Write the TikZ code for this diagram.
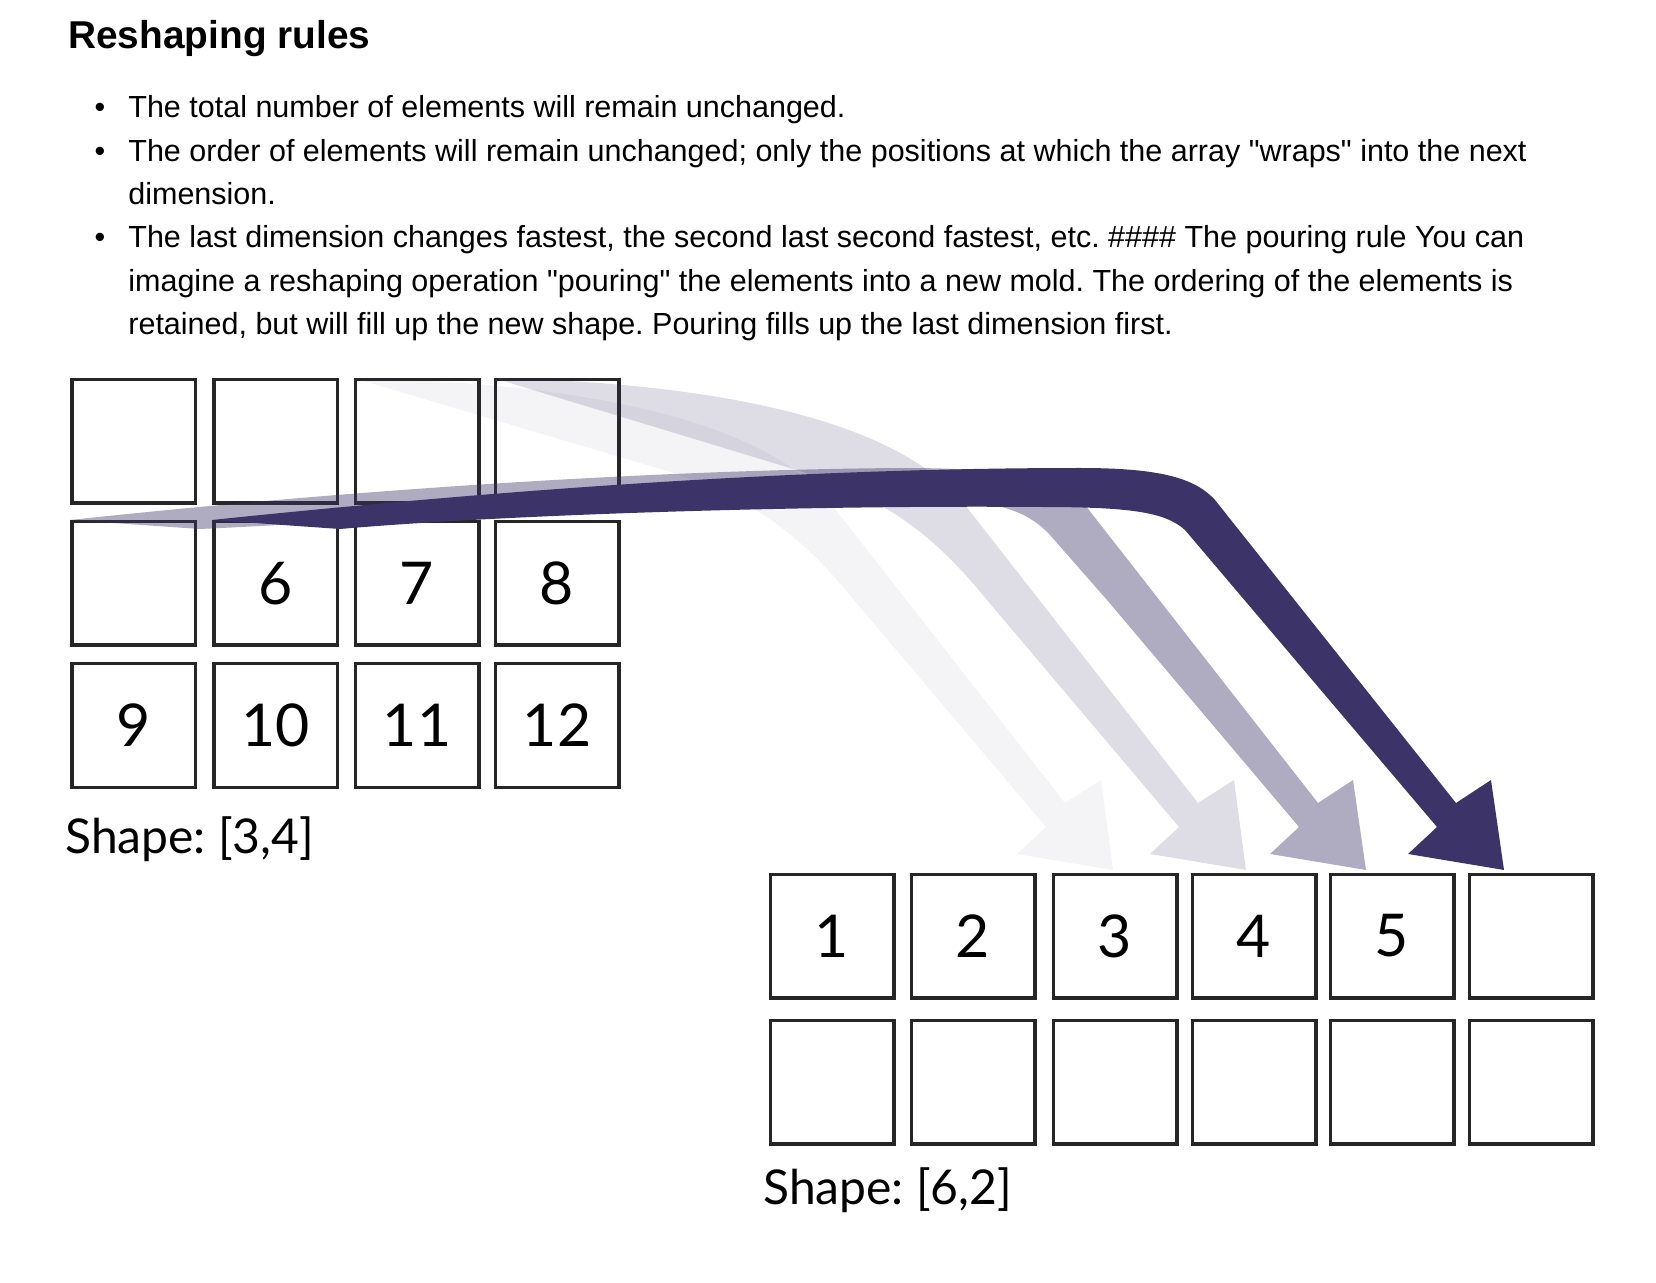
\documentclass[tikz,border=0pt]{standalone}
\usepackage{fontspec}
\setmainfont{Liberation Sans}
\newfontfamily\gillfont{Lato}
\definecolor{pour}{HTML}{3C3468}
\definecolor{boxline}{HTML}{262626}
\newcommand{\cell}{61.75pt}
\newcommand{\qt}{\textquotedbl}
\frenchspacing

\begin{document}
\begin{tikzpicture}[x=0.5pt, y=-0.5pt,
    cellbox/.style={draw=boxline, line width=1.75pt, minimum width=\cell, minimum height=\cell, inner sep=0pt, font=\gillfont\fontsize{29.5pt}{35pt}\selectfont},
    bodyline/.style={anchor=base west, inner sep=0pt, font=\fontsize{15.25pt}{21.6pt}\selectfont},
    dot/.style={anchor=base, inner sep=0pt, font=\fontsize{15.25pt}{21.6pt}\selectfont},
    shapelabel/.style={anchor=base west, inner sep=0pt, font=\gillfont\fontsize{24pt}{29pt}\selectfont}]
    \useasboundingbox (0,0) rectangle (1656,1283);

    % Heading and rules
    \node[anchor=base west, inner sep=0pt, font=\bfseries\fontsize{19.4pt}{23pt}\selectfont] (title) at (68,49) {Reshaping rules};
    \node[dot] (dot-1) at (100,118) {\textbullet};
    \node[dot] (dot-2) at (100,161.5) {\textbullet};
    \node[dot] (dot-3) at (100,248) {\textbullet};
    \node[bodyline] (line-1) at (128,118) {The total number of elements will remain unchanged.};
    \node[bodyline] (line-2) at (128,161.5) {The order of elements will remain unchanged; only the positions at which the array \qt wraps\qt{} into the next};
    \node[bodyline] (line-3) at (128,205) {dimension.};
    \node[bodyline] (line-4) at (128,248) {The last dimension changes fastest, the second last second fastest, etc. \#\#\#\# The pouring rule You can};
    \node[bodyline] (line-5) at (128,291.5) {imagine a reshaping operation \qt pouring\qt{} the elements into a new mold. The ordering of the elements is};
    \node[bodyline] (line-6) at (128,335) {retained, but will fill up the new shape. Pouring fills up the last dimension first.};

    % Old shape, first row
    \node[cellbox] (old-1-1) at (133.5,441.5) {};
    \node[cellbox] (old-1-2) at (275.5,441.5) {};
    \node[cellbox] (old-1-3) at (417,441.5) {};
    \node[cellbox] (old-1-4) at (557,441.5) {};
    % Old shape, second row
    \node[cellbox] (old-2-1) at (133.5,583.5) {};
    \node[cellbox] (old-2-2) at (275.5,583.5) {6};
    \node[cellbox] (old-2-3) at (417,583.5) {7};
    \node[cellbox] (old-2-4) at (557,583.5) {8};
    % Old shape, third row
    \node[cellbox] (old-3-1) at (133.5,725.5) {9};
    \node[cellbox] (old-3-2) at (275.5,725.5) {10};
    \node[cellbox] (old-3-3) at (417,725.5) {11};
    \node[cellbox] (old-3-4) at (557,725.5) {12};
    \node[shapelabel] (label-old) at (65,853) {Shape: [3,4]};

    % New shape, first row
    \node[cellbox] (new-1-1) at (832,936) {1};
    \node[cellbox] (new-1-2) at (973,936) {2};
    \node[cellbox] (new-1-3) at (1115,936) {3};
    \node[cellbox] (new-1-4) at (1254,936) {4};
    \node[cellbox] (new-1-5) at (1392,936) {5};
    \node[cellbox] (new-1-6) at (1531,936) {};
    % New shape, second row
    \node[cellbox] (new-2-1) at (832,1082) {};
    \node[cellbox] (new-2-2) at (973,1082) {};
    \node[cellbox] (new-2-3) at (1115,1082) {};
    \node[cellbox] (new-2-4) at (1254,1082) {};
    \node[cellbox] (new-2-5) at (1392,1082) {};
    \node[cellbox] (new-2-6) at (1531,1082) {};
    \node[shapelabel] (label-new) at (763,1204) {Shape: [6,2]};

    % Pouring arrows, oldest first
    \fill[pour, fill opacity=0.06] (old-1-3.north west) .. controls (547,382) and (757,410) .. (832,505) -- (1065,803) -- (1101,780) -- (1113,870) -- (1017,854) -- (1046,827) -- (854,600) .. controls (797,530) and (747,495) .. (657,468) -- cycle;
    \fill[pour, fill opacity=0.17] (old-1-4.north west) .. controls (680,382) and (890,410) .. (965,505) -- (1198,803) -- (1234,780) -- (1246,870) -- (1150,854) -- (1179,827) -- (987,600) .. controls (930,530) and (880,495) .. (790,468) -- cycle;
    \fill[pour, fill opacity=0.41] (old-2-1.north west) .. controls (350,490) and (650,470) .. (900,468) .. controls (1000,468) and (1060,475) .. (1085,505) -- (1318,803) -- (1353,780) -- (1366,870) -- (1270,854) -- (1299,827) -- (1107,600) -- (1050,535) .. controls (1025,508) and (990,498) .. (900,498) .. controls (600,500) and (400,520) .. (200,529) -- cycle;
    \fill[pour] (old-2-2.north west) .. controls (500,490) and (800,468) .. (1080,468) .. controls (1160,468) and (1195,478) .. (1215,500) -- (1456,803) -- (1491,780) -- (1504,870) -- (1408,854) -- (1437,827) -- (1185,530) .. controls (1165,512) and (1130,507) .. (1040,507) .. controls (800,505) and (500,515) .. (340,529) -- cycle;
\end{tikzpicture}
\end{document}
